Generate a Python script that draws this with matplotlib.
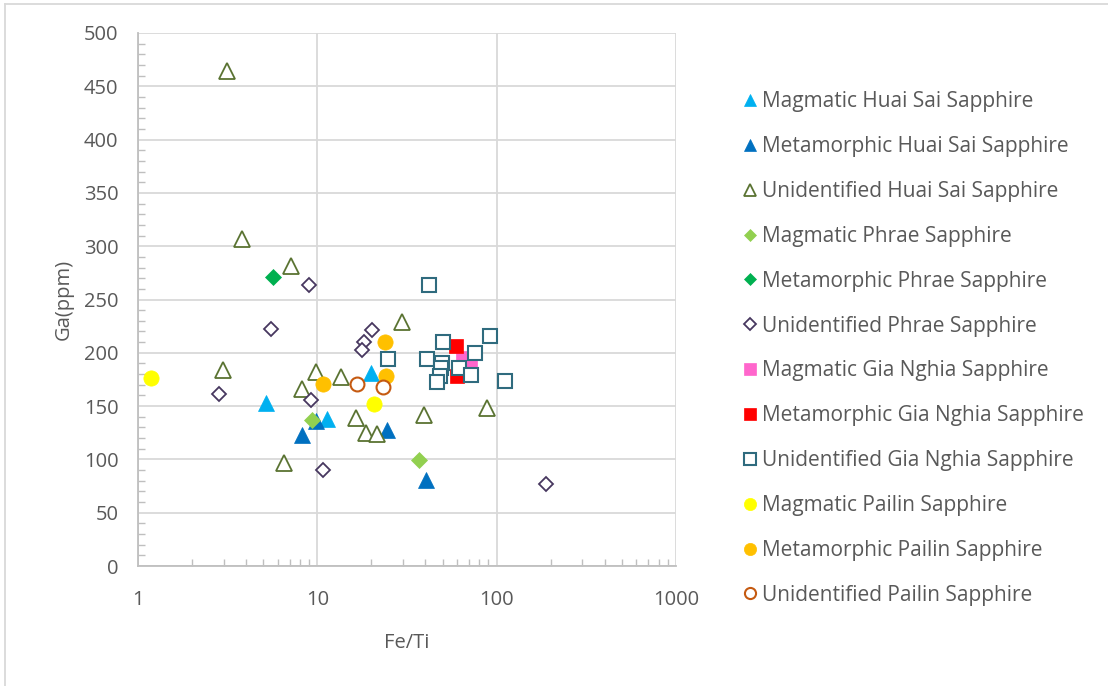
import numpy as np
import matplotlib.pyplot as plt
from matplotlib.lines import Line2D
from matplotlib.ticker import LogLocator, MultipleLocator, FixedLocator, NullFormatter

plt.rcParams['font.family'] = ['Open Sans', 'DejaVu Sans']

# Fe/Ti ratio and Ga content (ppm) for each group
mag_huai_x = [5.2, 11.3, 19.8]
mag_huai_y = [153, 138, 181]
met_huai_x = [8.2, 9.8, 24.5, 40.2]
met_huai_y = [123, 136, 128, 81]
uni_huai_x = [3.12, 3.81, 7.09, 2.96, 9.77, 8.17, 6.53, 13.6, 16.4, 18.6, 21.5, 29.8, 39.4, 88.3]
uni_huai_y = [464, 307, 281, 184, 182, 166, 97, 177, 139, 125, 124, 229, 142, 148]

mag_phrae_x = [9.3, 36.9]
mag_phrae_y = [137, 99]
met_phrae_x = [5.67]
met_phrae_y = [271]
uni_phrae_x = [8.93, 5.51, 2.84, 9.2, 10.8, 20.3, 18.3, 17.8, 187.5]
uni_phrae_y = [264, 222, 161, 156, 90, 221, 210, 203, 77]

mag_gia_x = [64.7, 70.8]
mag_gia_y = [195, 189]
met_gia_x = [59.6, 60.4]
met_gia_y = [206, 178]
uni_gia_x = [41.8, 91.4, 50.5, 76.1, 24.9, 40.7, 49.8, 48.7, 61.7, 48.1, 46.5, 71.9, 111.3]
uni_gia_y = [264, 216, 210, 200, 194, 194, 190, 186, 186, 178, 173, 179, 174]

mag_pailin_x = [1.18, 20.7]
mag_pailin_y = [176, 152]
met_pailin_x = [10.8, 23.9, 24.1]
met_pailin_y = [171, 210, 178]
uni_pailin_x = [16.7, 23.3]
uni_pailin_y = [171, 168]

fig = plt.figure(figsize=(11.08, 6.86), dpi=100)
ax = fig.add_axes([138 / 1108, 120 / 686, (676 - 138) / 1108, (566 - 33) / 686])

grey = '#595959'


def pts(x, y, marker, color, label, size, filled=True, lw=1.3):
    if filled:
        ax.plot(x, y, ls='none', marker=marker, ms=size, mfc=color, mec=color,
                mew=0.5, label=label, zorder=3)
    else:
        ax.plot(x, y, ls='none', marker=marker, ms=size, mfc='white', mec=color,
                mew=lw, label=label, zorder=3)


pts(mag_huai_x, mag_huai_y, '^', '#00B0F0', 'Magmatic Huai Sai Sapphire', 11)
pts(met_huai_x, met_huai_y, '^', '#0070C0', 'Metamorphic Huai Sai Sapphire', 11)
pts(uni_huai_x, uni_huai_y, '^', '#5A7332', 'Unidentified Huai Sai Sapphire', 11, False)
pts(mag_phrae_x, mag_phrae_y, 'D', '#92D050', 'Magmatic Phrae Sapphire', 8)
pts(met_phrae_x, met_phrae_y, 'D', '#00B050', 'Metamorphic Phrae Sapphire', 8)
pts(uni_phrae_x, uni_phrae_y, 'D', '#47375F', 'Unidentified Phrae Sapphire', 7.5, False)
pts(mag_gia_x, mag_gia_y, 's', '#FF66CC', 'Magmatic Gia Nghia Sapphire', 10)
pts(met_gia_x, met_gia_y, 's', '#FF0000', 'Metamorphic Gia Nghia Sapphire', 10)
pts(uni_gia_x, uni_gia_y, 's', '#2F6B7E', 'Unidentified Gia Nghia Sapphire', 10, False, 1.5)
pts(mag_pailin_x, mag_pailin_y, 'o', '#FFFF00', 'Magmatic Pailin Sapphire', 11)
pts(met_pailin_x, met_pailin_y, 'o', '#FFC000', 'Metamorphic Pailin Sapphire', 11)
pts(uni_pailin_x, uni_pailin_y, 'o', '#C55A11', 'Unidentified Pailin Sapphire', 10, False, 1.5)

ax.set_xscale('log')
ax.set_xlim(1, 1000)
ax.set_ylim(0, 500)
ax.xaxis.set_major_locator(FixedLocator([1, 10, 100, 1000]))
ax.xaxis.set_major_formatter(plt.FuncFormatter(lambda v, p: '%d' % v))
ax.xaxis.set_minor_locator(LogLocator(base=10, subs=np.arange(2, 10)))
ax.xaxis.set_minor_formatter(NullFormatter())
ax.yaxis.set_major_locator(MultipleLocator(50))
ax.yaxis.set_minor_locator(MultipleLocator(10))

ax.grid(True, which='major', color='#D9D9D9', lw=1.3, zorder=0)
ax.set_axisbelow(True)
for s in ['top', 'right']:
    ax.spines[s].set_visible(False)
for s in ['left', 'bottom']:
    ax.spines[s].set_color('#BFBFBF')
    ax.spines[s].set_linewidth(1.3)

ax.tick_params(which='major', length=0, labelsize=14.5, labelcolor=grey)
ax.tick_params(which='minor', direction='in', length=5, color='#BFBFBF', width=1)
ax.tick_params(axis='x', which='major', pad=17)
ax.tick_params(axis='y', which='major', pad=14)

ax.set_xlabel('Fe/Ti', fontsize=14.5, color=grey, labelpad=17)
ax.set_ylabel('Ga(ppm)', fontsize=14.5, color=grey, labelpad=7)

leg = ax.legend(loc='upper left', bbox_to_anchor=(735 / 1108, 1 - 83 / 686),
                bbox_transform=fig.transFigure, frameon=False, fontsize=15,
                labelcolor=grey, markerscale=0.8, handlelength=0.6,
                handletextpad=0.3, labelspacing=1.145, borderaxespad=0)

# light chart-area border
fig.add_artist(Line2D([5 / 1108, 5 / 1108], [0, 1 - 4 / 686], color='#D9D9D9', lw=1.3))
fig.add_artist(Line2D([5 / 1108, 1], [1 - 4 / 686, 1 - 4 / 686], color='#D9D9D9', lw=1.3))

fig.savefig('out.png', dpi=100)
